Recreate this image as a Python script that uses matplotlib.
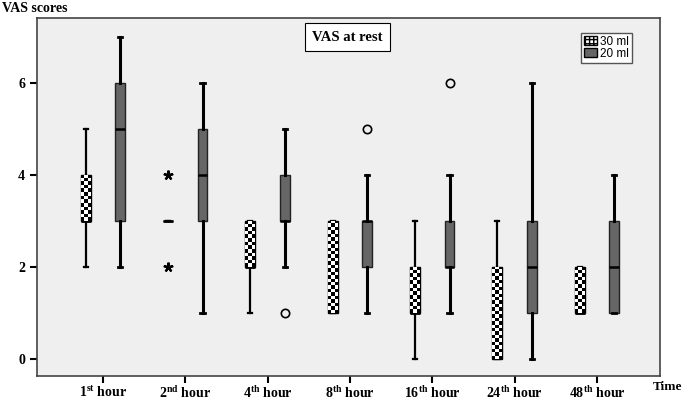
import numpy as np
import matplotlib
matplotlib.use("Agg")
import matplotlib.pyplot as plt
from matplotlib.patches import Patch

plt.rcParams['font.family'] = 'Liberation Serif'
plt.rcParams['mathtext.fontset'] = 'custom'
plt.rcParams['mathtext.rm'] = 'Liberation Serif:bold'

times = ['1$^{\\rm st}$ hour', '2$^{\\rm nd}$ hour', '4$^{\\rm th}$ hour', '8$^{\\rm th}$ hour',
         '16$^{\\rm th}$ hour', '24$^{\\rm th}$ hour', '48$^{\\rm th}$ hour']

# 30 ml group: whislo, q1, med, q3, whishi
ml30_lo = [2, 3, 1, 1, 0, 0, 1]
ml30_q1 = [3, 3, 2, 1, 1, 0, 1]
ml30_med = [3, 3, 2, 2, 1, 1, 1]
ml30_q3 = [4, 3, 3, 3, 2, 2, 2]
ml30_hi = [5, 3, 3, 3, 3, 3, 2]

# 20 ml group
ml20_lo = [2, 1, 2, 1, 1, 0, 1]
ml20_q1 = [3, 3, 3, 2, 2, 1, 1]
ml20_med = [5, 4, 3, 3, 2, 2, 2]
ml20_q3 = [6, 5, 4, 3, 3, 3, 3]
ml20_hi = [7, 6, 5, 4, 4, 6, 4]

# outliers: (time index, value)
circles_20 = [(2, 1), (3, 5), (4, 6)]
stars_30 = [(1, 4), (1, 2)]

offset = 0.21
width = 0.12


def make_stats(lo, q1, med, q3, hi):
    return [dict(whislo=a, q1=b, med=c, q3=d, whishi=e, fliers=[])
            for a, b, c, d, e in zip(lo, q1, med, q3, hi)]


fig = plt.figure(figsize=(6.85, 4.01), dpi=100)
ax = fig.add_axes([0.054, 0.062, 0.91, 0.893])
ax.set_facecolor('#efefef')

x = np.arange(1, len(times) + 1)
pos30 = x - offset
pos20 = x + offset

st30 = make_stats(ml30_lo, ml30_q1, ml30_med, ml30_q3, ml30_hi)
st20 = make_stats(ml20_lo, ml20_q1, ml20_med, ml20_q3, ml20_hi)

b30 = ax.bxp(st30, positions=pos30, widths=width, patch_artist=True,
             showfliers=False, capwidths=0.05,
             boxprops=dict(facecolor='white', edgecolor='black', linewidth=1),
             whiskerprops=dict(color='black', linewidth=1.6),
             capprops=dict(color='black', linewidth=1.6),
             medianprops=dict(color='black', linewidth=2))
b20 = ax.bxp(st20, positions=pos20, widths=width, patch_artist=True,
             showfliers=False, capwidths=0.05,
             boxprops=dict(facecolor='#666666', edgecolor='#222222', linewidth=1),
             whiskerprops=dict(color='black', linewidth=2.2),
             capprops=dict(color='black', linewidth=2),
             medianprops=dict(color='black', linewidth=1.8))

# checkerboard fill for the 30 ml boxes
for patch, p, s in zip(b30['boxes'], pos30, st30):
    h = s['q3'] - s['q1']
    if h <= 0:
        continue
    nr = int(round(h / 0.075))
    checker = (np.add.outer(np.arange(nr), np.arange(3)) % 2).astype(float)
    im = ax.imshow(checker, cmap='gray', extent=[p - width / 2, p + width / 2, s['q1'], s['q3']],
                   aspect='auto', interpolation='nearest', zorder=2.5)
    im.set_clip_path(patch)

for i, v in circles_20:
    ax.plot(pos20[i], v, 'o', mfc='none', mec='black', ms=6, mew=1.2, zorder=4)
for i, v in stars_30:
    ax.plot(pos30[i], v, marker=(5, 2, 0), color='black', ms=7, mew=1.6, zorder=4)

ax.set_xlim(0.2, 7.77)
ax.set_ylim(-0.37, 7.41)
ax.set_xticks(x)
ax.set_xticklabels(times, fontsize=10, fontweight='bold')
ax.set_yticks([0, 2, 4, 6])
ax.set_yticklabels(['0', '2', '4', '6'], fontsize=10, fontweight='bold')
ax.tick_params(axis='both', length=5, width=1.5, color='black')
ax.tick_params(axis='x', pad=1)

for sp in ax.spines.values():
    sp.set_color('#444444')
    sp.set_linewidth(1.2)

ax.text(0.498, 0.965, 'VAS at rest', transform=ax.transAxes, ha='center', va='top',
        fontsize=10.5, fontweight='bold',
        bbox=dict(boxstyle='square,pad=0.5', fc='white', ec='black', lw=0.8))

fig.text(0.003, 0.978, 'VAS scores', fontsize=10, fontweight='bold', va='center')
fig.text(0.996, 0.02, 'Time', fontsize=9.5, fontweight='bold', va='bottom', ha='right')

handles = [Patch(facecolor='white', edgecolor='black', hatch='++++'),
           Patch(facecolor='#666666', edgecolor='black')]
ax.legend(handles, ['30 ml', '20 ml'], loc='upper right', bbox_to_anchor=(0.955, 0.958),
          prop={'family': 'Liberation Sans', 'size': 8.5}, frameon=True, fancybox=False,
          edgecolor='#555555', framealpha=1, handlelength=1.1, handleheight=0.8,
          handletextpad=0.3, labelspacing=0.0, borderpad=0.25, borderaxespad=0)

fig.savefig('out.png', dpi=100)
